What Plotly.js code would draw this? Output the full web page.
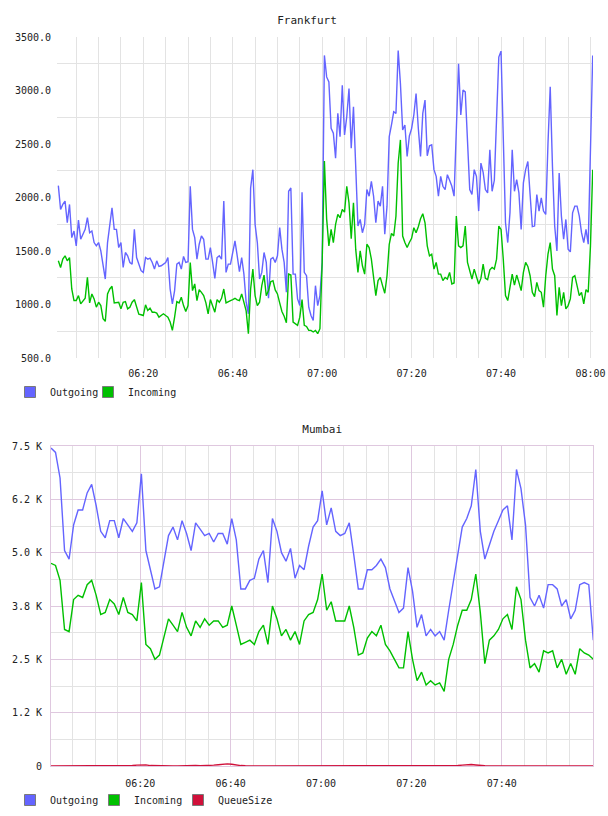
<!DOCTYPE html>
<html>
<head>
<meta charset="utf-8">
<script src="https://cdn.plot.ly/plotly-3.0.1.min.js"></script>
<style>
  html, body { margin: 0; padding: 0; background: #fff; }
  .chart { width: 608px; height: 408px; }
</style>
</head>
<body>
<div id="frankfurt" class="chart"></div>
<div id="mumbai" class="chart"></div>
<script>
// ---- Frankfurt: one sample every 30 s starting 06:01:00 ----
const frankfurtStart = '2024-01-01 06:01:00';
const frankfurtStepSec = 30;
const frankfurtOutgoing = [
  2111,1888,1935,1966,1764,1935,1625,1687,1548,1789,
  1610,1656,1702,1811,1671,1687,1579,1548,1579,1501,
  1377,1238,1579,1733,1904,1702,1702,1532,1579,1346,
  1486,1455,1393,1377,1702,1439,1377,1316,1300,1439,
  1424,1433,1393,1331,1408,1356,1362,1377,1393,1439,
  1145,1006,1130,1377,1393,1331,1449,1393,1400,2105,
  1702,1625,1424,1563,1640,1610,1424,1424,1532,1393,
  1244,1439,1455,1424,1966,1300,1377,1377,1486,1594,
  1455,1306,1439,1284,1021,913,2089,2260,1749,1579,
  1238,1300,1486,1393,1058,1424,1439,1393,1455,1718,
  1517,1393,1114,2058,2089,1284,1284,1052,990,2049,
  1300,1269,975,897,851,1176,990,1083,1393,3328,
  3127,3080,2647,2600,2368,2786,2569,3049,2585,2755,
  3018,2461,2848,2322,1733,1795,1671,1749,2074,2012,
  2151,2012,1764,1966,1919,2105,1656,1919,2569,2678,
  2801,2786,3374,3065,2631,2678,2384,2575,2644,2771,
  2972,2647,2384,2786,2910,2390,2483,2492,2260,2198,
  2012,2198,2105,2074,2213,2161,2105,2012,2631,3250,
  2771,3003,2987,2445,2074,2028,2260,2198,1873,2322,
  2235,2074,2043,2445,2058,2161,2786,3312,3368,2538,
  1764,1579,1857,2445,2058,2167,2043,1702,2136,2260,
  2337,2028,1727,1733,2028,1873,1997,1873,1842,2507,
  3034,2291,1733,1501,2229,1826,1610,1795,1517,1492,
  1857,1919,1919,1826,1671,1579,1702,1563,2384,3328
];
const frankfurtIncoming = [
  1408,1346,1424,1455,1408,1439,1145,1037,1037,1083,
  1006,1037,1058,1253,1015,1099,1052,975,1021,990,
  867,842,1099,1145,1170,1015,1015,1021,959,1021,
  1027,959,975,1021,1046,975,910,904,897,997,
  944,966,928,928,919,882,897,913,897,882,
  836,758,882,1027,1015,1068,990,935,990,1393,
  1130,1192,1037,1139,1114,1083,1015,913,1046,990,
  928,1046,1021,1058,1145,1015,1030,1037,1046,1058,
  1043,1037,1099,1006,941,727,1145,1331,1083,990,
  1021,1176,1275,1083,1130,1213,1223,1136,1099,1015,
  935,891,829,1284,1275,836,820,805,882,1046,
  805,795,758,758,743,758,727,774,1393,2340,
  1800,1548,1702,1579,1749,1842,1811,1888,1863,2105,
  1950,1616,1950,1517,1300,1501,1362,1284,1563,1532,
  1424,1223,1083,1223,1253,1176,1105,1269,1563,1665,
  1640,1826,2322,2538,1640,1579,1532,1579,1619,1718,
  1671,1727,1801,1848,1764,1548,1455,1470,1331,1393,
  1284,1284,1223,1253,1238,1300,1192,1201,1826,1548,
  1532,1548,1733,1393,1306,1238,1331,1253,1192,1244,
  1377,1244,1232,1325,1346,1331,1424,1733,1702,1424,
  1083,1037,1161,1284,1182,1275,1207,1130,1300,1393,
  1356,1269,1114,1074,1207,1130,1114,975,1269,1470,
  1579,1331,1269,897,1161,990,1114,959,990,1052,
  1253,1269,1176,1083,1114,1006,1139,1114,1548,2260
];
const frankfurtYTicks = [500, 1000, 1500, 2000, 2500, 3000, 3500];

// ---- Mumbai: one sample per minute starting 06:00:15 ----
const mumbaiStart = '2024-01-01 06:00:15';
const mumbaiStepSec = 60;
const mumbaiOutgoing = [
  7450,7350,6750,5050,4850,5650,6000,6000,6400,6600,
  6100,5500,5350,5750,5750,5350,5800,5650,5500,5700,
  6850,5050,4600,4150,4200,4800,5400,5600,5300,5750,
  5450,5050,5700,5550,5400,5450,5250,5450,5450,5200,
  5800,5300,4150,4150,4350,4400,4850,5050,4300,5800,
  5500,5000,4800,5100,4400,4700,4600,5150,5600,5750,
  6450,5650,6050,5500,5400,5450,5700,4950,4150,4150,
  4600,4600,4700,4850,4650,4150,3850,3600,3700,4650,
  4100,3250,3550,3050,3200,3050,3150,2950,3650,4300,
  5050,5600,5800,6100,6950,5500,4850,5200,5500,5750,
  6000,6100,5300,6950,6500,5650,3950,3750,4000,3700,
  4250,4250,4150,3750,3900,3450,3650,4250,4300,4250,
  2950
];
const mumbaiIncoming = [
  4750,4700,4350,3200,3150,3900,4000,3950,4250,4350,
  4000,3550,3600,3900,3800,3550,3950,3600,3550,3400,
  4300,2850,2750,2500,2600,3000,3450,3300,3150,3600,
  3250,3050,3400,3250,3450,3300,3400,3400,3250,3300,
  3750,3300,2850,2900,2950,2850,3150,3300,2850,3750,
  3450,3050,3200,2950,3150,2850,3400,3550,3600,3900,
  4500,3650,3850,3400,3400,3400,3750,3250,2600,2650,
  3000,3150,3050,3300,2850,2700,2500,2300,2300,3150,
  2500,2000,2200,1900,2000,1900,1950,1750,2500,2850,
  3300,3650,3650,3900,4500,3600,2400,2950,3050,3200,
  3450,3550,3200,4200,3900,2950,2300,2400,2200,2700,
  2650,2700,2300,2500,2150,2400,2150,2750,2650,2600,
  2500
];
const mumbaiQueueSize = [
  0,0,0,0,0,0,0,0,0,0,
  0,0,0,0,0,0,0,5,10,20,
  30,25,10,5,0,0,0,0,0,5,
  10,15,10,5,5,10,20,30,45,50,
  40,20,10,5,0,0,0,0,0,0,
  0,0,0,0,0,0,0,0,0,0,
  0,0,0,0,0,0,0,0,0,0,
  0,0,0,0,0,0,0,0,0,0,
  0,0,0,0,0,0,0,0,0,5,
  10,20,30,35,25,10,5,0,0,0,
  0,0,0,0,0,0,0,0,0,0,
  0,0,0,0,0,0,0,0,0,0,
  0
];
const mumbaiYTicks = [0, 1250, 2500, 3750, 5000, 6250, 7500];
const mumbaiYLabels = ['0', '1.2 K', '2.5 K', '3.8 K', '5.0 K', '6.2 K', '7.5 K'];
const mumbaiXTicks = ['2024-01-01 06:20', '2024-01-01 06:40', '2024-01-01 07:00',
                      '2024-01-01 07:20', '2024-01-01 07:40'];

// ---- shared styling ----
const COLORS = { outgoing: '#6464ff', incoming: '#00c000', queue: '#d0103a' };
const FONT = 'DejaVu Sans Mono, monospace';
const GRID = '#e3e3e3';
const PINK = '#dfc8df';

function timeline(start, stepSec, n) {
  const t0 = new Date(start.replace(' ', 'T') + 'Z').getTime();
  const out = [];
  for (let i = 0; i < n; i++) {
    out.push(new Date(t0 + i * stepSec * 1000).toISOString().replace('T', ' ').slice(0, 19));
  }
  return out;
}

function lineTrace(x, y, color) {
  return { type: 'scatter', mode: 'lines', x: x, y: y, showlegend: false,
           hoverinfo: 'skip', line: { color: color, width: 1.4 } };
}
// legend swatches: square markers with a grey outline
function legendEntry(name, color) {
  return { type: 'scatter', mode: 'markers', x: [null], y: [null], name: name,
           showlegend: true,
           marker: { symbol: 'square', size: 11, color: color,
                     line: { color: '#7a7a7a', width: 1 } } };
}
// empty trailing slot so the last label keeps its full width inside the legend box
function legendSpacer() {
  return { type: 'scatter', mode: 'markers', x: [null], y: [null], name: ' ',
           showlegend: true, marker: { size: 1, color: 'rgba(0,0,0,0)' } };
}
function legendLayout(entryWidth) {
  return { orientation: 'h', xref: 'container', yref: 'container',
           x: 10 / 608, y: 1 - 392 / 408, xanchor: 'left', yanchor: 'middle',
           entrywidth: entryWidth, entrywidthmode: 'pixels',
           font: { family: FONT, size: 10, color: '#222' }, bgcolor: 'rgba(0,0,0,0)' };
}

// ---- Frankfurt chart ----
const fx = timeline(frankfurtStart, frankfurtStepSec, frankfurtOutgoing.length);
Plotly.newPlot('frankfurt', [
  lineTrace(fx, frankfurtOutgoing, COLORS.outgoing),
  lineTrace(fx, frankfurtIncoming, COLORS.incoming),
  legendEntry('Outgoing', COLORS.outgoing),
  legendEntry('Incoming', COLORS.incoming),
  legendSpacer()
], {
  width: 608, height: 408,
  margin: { l: 57, r: 15, t: 37, b: 50 },
  paper_bgcolor: '#fff', plot_bgcolor: '#fff',
  font: { family: FONT, size: 10, color: '#222' },
  title: { text: 'Frankfurt', font: { family: FONT, size: 11, color: '#222' },
           xref: 'container', x: 0.505, yref: 'container', y: 1 - 20 / 408, yanchor: 'middle' },
  xaxis: {
    type: 'date', range: ['2024-01-01 06:00:42', '2024-01-01 08:00:34'],
    tickmode: 'linear', tick0: '2024-01-01 06:00:00', dtick: 20 * 60 * 1000,
    tickformat: '%H:%M', ticks: '', ticklabelstandoff: 8,
    showgrid: true, gridcolor: GRID, gridwidth: 1, zeroline: false, showline: false,
    minor: { tickmode: 'linear', tick0: '2024-01-01 06:00:00', dtick: 5 * 60 * 1000,
             showgrid: true, gridcolor: GRID, gridwidth: 1, ticks: '' }
  },
  yaxis: {
    range: [500, 3500], tickmode: 'array', tickvals: frankfurtYTicks,
    tickformat: '.1f', ticks: '', ticklabelstandoff: 5,
    showgrid: false, zeroline: false, showline: false,
    minor: { tickmode: 'linear', tick0: 750, dtick: 500,
             showgrid: true, gridcolor: GRID, gridwidth: 1, ticks: '' }
  },
  legend: legendLayout(33)
}, { staticPlot: true, displayModeBar: false });

// ---- Mumbai chart ----
const mx = timeline(mumbaiStart, mumbaiStepSec, mumbaiOutgoing.length);
Plotly.newPlot('mumbai', [
  lineTrace(mx, mumbaiOutgoing, COLORS.outgoing),
  lineTrace(mx, mumbaiIncoming, COLORS.incoming),
  lineTrace(mx, mumbaiQueueSize, COLORS.queue),
  legendEntry('Outgoing', COLORS.outgoing),
  legendEntry('Incoming', COLORS.incoming),
  legendEntry('QueueSize', COLORS.queue),
  legendSpacer()
], {
  width: 608, height: 408,
  margin: { l: 51, r: 15, t: 38, b: 50 },
  paper_bgcolor: '#fff', plot_bgcolor: '#fff',
  font: { family: FONT, size: 10, color: '#222' },
  title: { text: 'Mumbai', font: { family: FONT, size: 11, color: '#222' },
           xref: 'container', x: 0.53, yref: 'container', y: 1 - 21 / 408, yanchor: 'middle' },
  xaxis: {
    type: 'date', range: ['2024-01-01 06:00:15', '2024-01-01 08:00:11'],
    tickmode: 'array', tickvals: mumbaiXTicks,
    tickformat: '%H:%M', ticks: '', ticklabelstandoff: 8,
    showgrid: true, gridcolor: PINK, gridwidth: 1, zeroline: false,
    showline: true, mirror: true, linecolor: PINK, linewidth: 1,
    minor: { tickmode: 'linear', tick0: '2024-01-01 06:00:00', dtick: 5 * 60 * 1000,
             showgrid: true, gridcolor: GRID, gridwidth: 1, ticks: '' }
  },
  yaxis: {
    range: [0, 7500], tickmode: 'array', tickvals: mumbaiYTicks, ticktext: mumbaiYLabels,
    ticks: '', ticklabelstandoff: 6,
    showgrid: true, gridcolor: PINK, gridwidth: 1, zeroline: false,
    showline: true, mirror: true, linecolor: PINK, linewidth: 1,
    minor: { tickmode: 'linear', tick0: 625, dtick: 1250,
             showgrid: true, gridcolor: GRID, gridwidth: 1, ticks: '' }
  },
  legend: legendLayout(39)
}, { staticPlot: true, displayModeBar: false });
</script>
</body>
</html>
